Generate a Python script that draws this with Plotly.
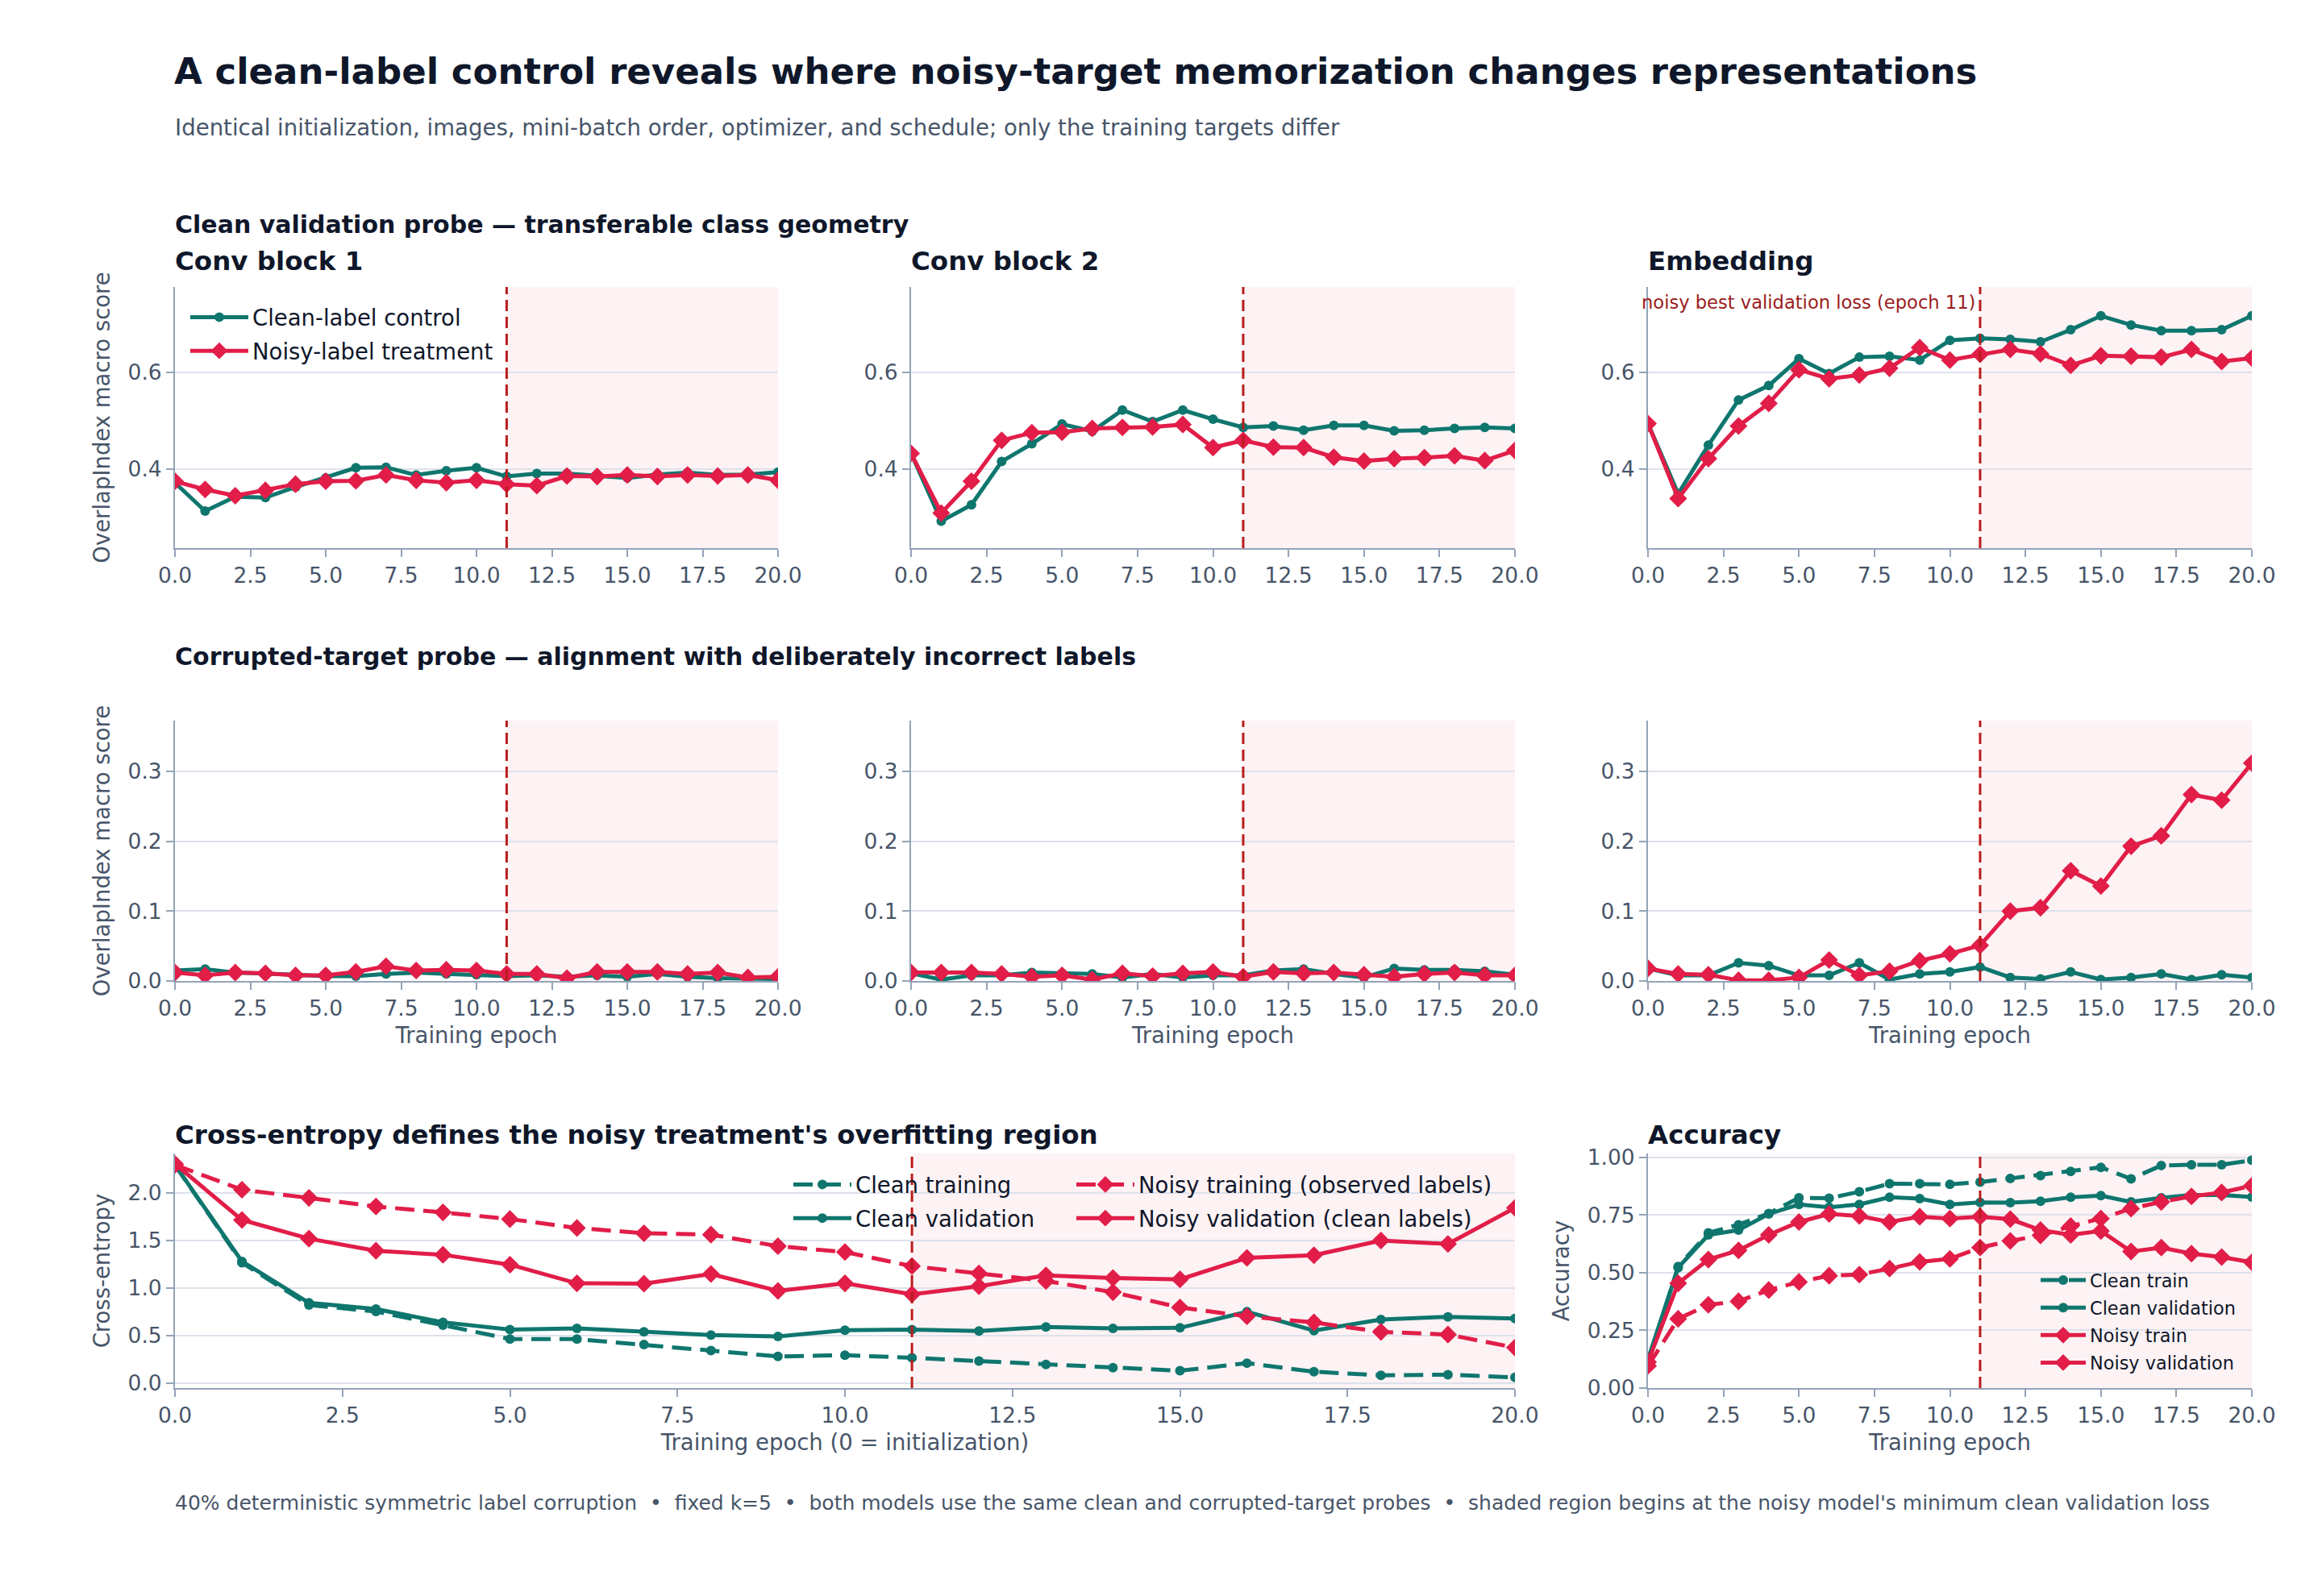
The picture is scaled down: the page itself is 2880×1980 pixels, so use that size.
import plotly.graph_objects as go

# --- data ---
epochs = list(range(21))
best_epoch = 11

clean_val_conv1 = [0.371, 0.312, 0.342, 0.340, 0.362, 0.381, 0.402, 0.403, 0.387, 0.396, 0.402,
                   0.384, 0.390, 0.390, 0.385, 0.381, 0.388, 0.392, 0.387, 0.388, 0.393]
noisy_val_conv1 = [0.374, 0.357, 0.344, 0.355, 0.368, 0.374, 0.375, 0.387, 0.376, 0.371, 0.376,
                   0.368, 0.365, 0.385, 0.384, 0.387, 0.384, 0.387, 0.385, 0.387, 0.376]
clean_val_conv2 = [0.432, 0.291, 0.325, 0.415, 0.452, 0.493, 0.478, 0.522, 0.498, 0.522, 0.503,
                   0.486, 0.489, 0.480, 0.490, 0.490, 0.479, 0.480, 0.484, 0.486, 0.484]
noisy_val_conv2 = [0.432, 0.308, 0.374, 0.459, 0.475, 0.476, 0.484, 0.486, 0.487, 0.492, 0.444,
                   0.459, 0.445, 0.444, 0.424, 0.416, 0.421, 0.423, 0.427, 0.417, 0.438]
clean_val_emb = [0.494, 0.348, 0.449, 0.543, 0.573, 0.629, 0.598, 0.632, 0.634, 0.626, 0.667,
                 0.671, 0.669, 0.664, 0.689, 0.718, 0.699, 0.687, 0.687, 0.689, 0.718]
noisy_val_emb = [0.494, 0.338, 0.421, 0.489, 0.536, 0.606, 0.587, 0.595, 0.609, 0.652, 0.626,
                 0.638, 0.648, 0.639, 0.615, 0.635, 0.634, 0.632, 0.648, 0.623, 0.630]

clean_cor_conv1 = [0.015, 0.017, 0.012, 0.011, 0.009, 0.007, 0.007, 0.010, 0.012, 0.010, 0.009,
                   0.007, 0.008, 0.006, 0.008, 0.006, 0.010, 0.006, 0.004, 0.004, 0.003]
noisy_cor_conv1 = [0.012, 0.008, 0.012, 0.011, 0.008, 0.008, 0.013, 0.021, 0.015, 0.016, 0.015,
                   0.010, 0.010, 0.004, 0.013, 0.013, 0.013, 0.010, 0.012, 0.005, 0.006]
clean_cor_conv2 = [0.011, 0.002, 0.008, 0.008, 0.012, 0.011, 0.010, 0.005, 0.010, 0.005, 0.008,
                   0.008, 0.015, 0.017, 0.010, 0.005, 0.018, 0.016, 0.016, 0.014, 0.009]
noisy_cor_conv2 = [0.012, 0.012, 0.012, 0.010, 0.006, 0.008, 0.002, 0.011, 0.007, 0.011, 0.013,
                   0.006, 0.013, 0.011, 0.012, 0.009, 0.006, 0.010, 0.012, 0.008, 0.008]
clean_cor_emb = [0.018, 0.008, 0.008, 0.026, 0.022, 0.008, 0.008, 0.026, 0.002, 0.010, 0.013,
                 0.020, 0.005, 0.003, 0.013, 0.002, 0.005, 0.010, 0.002, 0.009, 0.005]
noisy_cor_emb = [0.018, 0.010, 0.009, 0.001, 0.001, 0.005, 0.030, 0.008, 0.014, 0.029, 0.039,
                 0.051, 0.100, 0.105, 0.158, 0.136, 0.193, 0.208, 0.267, 0.259, 0.312]

clean_train_loss = [2.29, 1.265, 0.820, 0.753, 0.610, 0.463, 0.463, 0.407, 0.343, 0.281, 0.295,
                    0.267, 0.233, 0.197, 0.163, 0.132, 0.211, 0.121, 0.084, 0.090, 0.062]
clean_val_loss = [2.29, 1.278, 0.843, 0.778, 0.640, 0.562, 0.576, 0.539, 0.506, 0.492, 0.556,
                  0.562, 0.548, 0.590, 0.576, 0.581, 0.750, 0.553, 0.669, 0.697, 0.680]
noisy_train_loss = [2.29, 2.03, 1.944, 1.854, 1.792, 1.722, 1.629, 1.573, 1.559, 1.438, 1.376,
                    1.228, 1.152, 1.073, 0.955, 0.795, 0.702, 0.638, 0.539, 0.511, 0.374]
noisy_val_loss = [2.30, 1.713, 1.517, 1.390, 1.348, 1.244, 1.048, 1.045, 1.146, 0.969, 1.048,
                  0.933, 1.017, 1.132, 1.104, 1.090, 1.315, 1.343, 1.497, 1.461, 1.840]

clean_train_acc = [0.113, 0.527, 0.673, 0.708, 0.757, 0.825, 0.823, 0.851, 0.886, 0.886, 0.883,
                   0.893, 0.909, 0.921, 0.939, 0.957, 0.907, 0.965, 0.968, 0.968, 0.988]
clean_val_acc = [0.125, 0.522, 0.664, 0.685, 0.755, 0.796, 0.784, 0.796, 0.827, 0.821, 0.796,
                 0.805, 0.804, 0.810, 0.827, 0.834, 0.807, 0.825, 0.837, 0.837, 0.828]
noisy_train_acc = [0.096, 0.300, 0.361, 0.376, 0.425, 0.460, 0.487, 0.492, 0.518, 0.547, 0.560,
                   0.609, 0.638, 0.662, 0.702, 0.735, 0.778, 0.807, 0.831, 0.848, 0.877]
noisy_val_acc = [0.113, 0.454, 0.557, 0.597, 0.664, 0.720, 0.755, 0.746, 0.720, 0.743, 0.735,
                 0.743, 0.732, 0.685, 0.664, 0.681, 0.592, 0.609, 0.583, 0.568, 0.545]

# --- style ---
W, H = 2880, 1980
OFF = 8  # page body margin
FONT = "DejaVu Sans"
GREEN = "#0f766e"
RED = "#e11d48"
DARKRED = "#b91c1c"
INK = "#0f172a"
SLATE = "#475569"
GRID = "#dde2ec"
AXIS = "#94a3b8"
LW = 5
DASH = "24px,11px"


def px_x(p):
    return (p - OFF) / W


def px_y(p):
    return 1 - (p - OFF) / H


# panel boxes in screen pixels (left, right) / (top, bottom)
cols = [(217, 965), (1130, 1879), (2044, 2793)]
rows = [(356, 680), (894, 1217), (1431, 1722)]

fig = go.Figure()


def add_axes(n, xdom, ydom, yrange, dtick, tickfmt, xtitle=None, ytitle=None):
    sx = "" if n == 1 else str(n)
    fig.layout["xaxis" + sx] = dict(
        domain=[px_x(xdom[0]), px_x(xdom[1])], anchor="y" + sx, range=[0, 20],
        dtick=2.5, tick0=0, tickformat=".1f", showgrid=False, zeroline=False, automargin=False,
        showline=True, linecolor=AXIS, linewidth=2, ticks="outside", ticklen=9,
        tickwidth=2, tickcolor=AXIS, tickfont=dict(size=26.5, color=SLATE, family=FONT),
        title=dict(text=xtitle, font=dict(size=27.5, color=SLATE, family=FONT), standoff=10) if xtitle else None,
    )
    fig.layout["yaxis" + sx] = dict(
        domain=[px_y(ydom[1]), px_y(ydom[0])], anchor="x" + sx, range=yrange, automargin=False,
        dtick=dtick, tick0=0, tickformat=tickfmt, showgrid=True, gridcolor=GRID, gridwidth=2,
        zeroline=False, showline=True, linecolor=AXIS, linewidth=2, ticks="outside",
        ticklen=9, tickwidth=2, tickcolor=AXIS, tickfont=dict(size=26.5, color=SLATE, family=FONT),
        title=dict(text=ytitle, font=dict(size=27.5, color=SLATE, family=FONT), standoff=14) if ytitle else None,
    )
    # overfitting region and best-epoch marker
    fig.add_shape(type="rect", xref="x" + sx, yref="y" + sx + " domain", x0=best_epoch, x1=20,
                  y0=0, y1=1, fillcolor="rgba(225,29,72,0.06)", line_width=0, layer="below")
    fig.add_shape(type="line", xref="x" + sx, yref="y" + sx + " domain", x0=best_epoch, x1=best_epoch,
                  y0=0, y1=1, line=dict(color=DARKRED, width=3, dash="14px,7px"))


def add_line(n, y, color, symbol, dash="solid", name=None, legend="legend", show=False):
    sx = "" if n == 1 else str(n)
    fig.add_trace(go.Scatter(
        x=epochs, y=y, mode="lines+markers", name=name, xaxis="x" + sx, yaxis="y" + sx,
        line=dict(color=color, width=LW, dash=dash),
        marker=dict(symbol=symbol, size=12 if symbol == "circle" else 17, color=color),
        showlegend=show, legend=legend, legendgroup=f"{legend}-{name}" if show else None,
    ))


top_range = [0.235, 0.778]
mid_range = [0, 0.373]

clean_top = [clean_val_conv1, clean_val_conv2, clean_val_emb]
noisy_top = [noisy_val_conv1, noisy_val_conv2, noisy_val_emb]
clean_mid = [clean_cor_conv1, clean_cor_conv2, clean_cor_emb]
noisy_mid = [noisy_cor_conv1, noisy_cor_conv2, noisy_cor_emb]

# row 1: clean validation probe
for i in range(3):
    n = i + 1
    add_axes(n, cols[i], rows[0], top_range, 0.2, ".1f",
             ytitle="OverlapIndex macro score" if i == 0 else None)
    add_line(n, clean_top[i], GREEN, "circle", name="Clean-label control", show=(i == 0))
    add_line(n, noisy_top[i], RED, "diamond", name="Noisy-label treatment", show=(i == 0))

# row 2: corrupted-target probe
for i in range(3):
    n = i + 4
    add_axes(n, cols[i], rows[1], mid_range, 0.1, ".1f", xtitle="Training epoch",
             ytitle="OverlapIndex macro score" if i == 0 else None)
    add_line(n, clean_mid[i], GREEN, "circle")
    add_line(n, noisy_mid[i], RED, "diamond")

# row 3: loss and accuracy
add_axes(7, (cols[0][0], cols[1][1]), rows[2], [-0.05, 2.41], 0.5, ".1f",
         xtitle="Training epoch (0 = initialization)", ytitle="Cross-entropy")
add_line(7, clean_train_loss, GREEN, "circle", DASH, "Clean training", "legend2", True)
add_line(7, clean_val_loss, GREEN, "circle", "solid", "Clean validation", "legend2", True)
add_line(7, noisy_train_loss, RED, "diamond", DASH, "Noisy training (observed labels)", "legend3", True)
add_line(7, noisy_val_loss, RED, "diamond", "solid", "Noisy validation (clean labels)", "legend3", True)

add_axes(8, cols[2], rows[2], [0, 1.017], 0.25, ".2f", xtitle="Training epoch", ytitle="Accuracy")
add_line(8, clean_train_acc, GREEN, "circle", DASH, "Clean train", "legend4", True)
add_line(8, clean_val_acc, GREEN, "circle", "solid", "Clean validation", "legend4", True)
add_line(8, noisy_train_acc, RED, "diamond", DASH, "Noisy train", "legend4", True)
add_line(8, noisy_val_acc, RED, "diamond", "solid", "Noisy validation", "legend4", True)

legend_base = dict(bgcolor="rgba(0,0,0,0)", borderwidth=0, xanchor="left", yanchor="top",
                   font=dict(size=27.5, color=INK, family=FONT), itemwidth=72, tracegroupgap=3)
fig.update_layout(
    legend=dict(legend_base, x=px_x(231), y=px_y(369)),
    legend2=dict(legend_base, x=px_x(979), y=px_y(1445)),
    legend3=dict(legend_base, x=px_x(1330), y=px_y(1445)),
    legend4=dict(legend_base, x=px_x(2526), y=px_y(1567), itemwidth=56, tracegroupgap=2,
                 font=dict(size=22.4, color=INK, family=FONT)),
)


# --- text ---
def text(s, x, y, size, color=INK, bold=False):
    fig.add_annotation(text=f"<b>{s}</b>" if bold else s, x=x, y=y, xref="paper", yref="paper",
                       xanchor="left", yanchor="middle", showarrow=False,
                       font=dict(size=size, color=color, family=FONT))


text("A clean-label control reveals where noisy-target memorization changes representations",
     px_x(214), px_y(88), 45, bold=True)
text("Identical initialization, images, mini-batch order, optimizer, and schedule; only the training targets differ",
     px_x(215), px_y(159), 27.6, color=SLATE)
text("Clean validation probe — transferable class geometry", px_x(215), px_y(278), 30, bold=True)
for (l, r), t in zip(cols, ["Conv block 1", "Conv block 2", "Embedding"]):
    text(t, px_x(l - 2), px_y(324), 32.5, bold=True)
text("Corrupted-target probe — alignment with deliberately incorrect labels", px_x(215), px_y(814), 30, bold=True)
text("Cross-entropy defines the noisy treatment's overfitting region", px_x(215), px_y(1408), 32.5, bold=True)
text("Accuracy", px_x(cols[2][0] - 2), px_y(1408), 32.5, bold=True)
text("40% deterministic symmetric label corruption  •  fixed k=5  •  both models use the same clean and "
     "corrupted-target probes  •  shaded region begins at the noisy model's minimum clean validation loss",
     px_x(215), px_y(1864), 25, color=SLATE)

fig.add_annotation(text="noisy best validation loss (epoch 11)", x=best_epoch, y=1, xref="x3",
                   yref="y3 domain", xanchor="right", yanchor="top", xshift=-4, yshift=-4,
                   showarrow=False, font=dict(size=22.6, color="#9b1c1c", family=FONT))

fig.update_layout(
    width=W, height=H, margin=dict(l=0, r=0, t=0, b=0, autoexpand=False),
    paper_bgcolor="white", plot_bgcolor="white",
    font=dict(family=FONT, color=SLATE),
)

fig.write_html("out.html")
